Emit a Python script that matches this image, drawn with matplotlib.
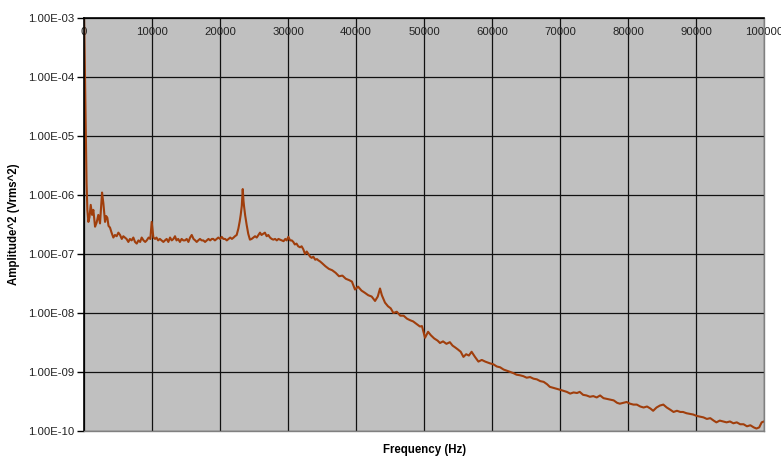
import numpy as np
import matplotlib.pyplot as plt
from matplotlib.ticker import FixedLocator, NullLocator, FuncFormatter

# spectrum (Hz, Vrms^2)
freq = [0, 120, 250, 370, 490, 640, 800, 980, 1180, 1370, 1620, 1850, 2100, 2350, 2650, 2840,
        3090, 3250, 3430, 3600, 3820, 4050, 4310, 4550, 4800, 5050, 5300, 5550, 5780, 6000,
        6250, 6520, 6750, 7000, 7250, 7500, 7750, 8000, 8250, 8480, 8750, 9000, 9220, 9500,
        9750, 9950, 10200, 10450, 10650, 10900, 11150, 11400, 11670, 11900, 12150, 12400,
        12650, 12900, 13150, 13380, 13600, 13850, 14100, 14350, 14600, 14850, 15100, 15350,
        15600, 15840, 16100, 16350, 16570, 16800, 17050, 17300, 17550, 17800, 18050, 18300,
        18550, 18800, 19000, 19250, 19500, 19750, 20000, 20250, 20500, 20750, 21000, 21250,
        21500, 21750, 22000, 22200, 22450, 22700, 22900, 23040, 23200, 23340, 23450, 23530,
        23700, 23920, 24150, 24400, 24650, 24900, 25150, 25400, 25650, 25880, 26100, 26370,
        26600, 26860, 27100, 27350, 27600, 27840, 28100, 28350, 28600, 28820, 29100, 29350,
        29600, 29800, 30050, 30300, 30550, 30780, 31000, 31250, 31500, 31760, 32000, 32250,
        32500, 32750, 33000, 33250, 33480, 33720, 34000, 34250, 34460, 34700,
        35000, 35500, 36000, 36500, 37000, 37500, 38000, 38500, 39000, 39400, 39850, 40300,
        40800, 41300, 41800, 42300, 42800, 43200, 43530, 43800, 44260, 44700, 45100, 45500,
        46000, 46500, 47000, 47500, 48000, 48400, 48900, 49400, 49700, 50150, 50600, 51000,
        51500, 52000, 52350, 52800, 53300, 53800, 54200, 54600, 55000, 55400, 55800, 56200,
        56600, 57000, 57500, 58000, 58500, 59000, 59700, 60200, 60700, 61200, 61700, 62200,
        62700, 63200, 63600, 64100, 64600, 65100, 65600, 66100, 66600, 67100, 67600, 68100,
        68500, 69000, 69500, 70000, 70500, 71000, 71500, 72000, 72500, 72900, 73400, 73900,
        74400, 74900, 75400, 75900, 76400, 76900, 77400, 77900, 78400, 78800, 79300, 79800,
        80300, 80800, 81300, 81800, 82300, 82800, 83300, 83700, 84200, 84700, 85200, 85700,
        86200, 86700, 87200, 87700, 88100, 88600, 89100, 89600, 90100, 90600, 91100, 91600,
        92100, 92600, 93000, 93500, 94000, 94500, 95000, 95500, 96000, 96500, 97000, 97500,
        98000, 98500, 98900, 99300, 99660, 100000]

amp = [1.0e-3, 1.5e-4, 1.2e-5, 1.6e-6, 5.6e-7, 3.5e-7, 4.2e-7, 6.8e-7, 4.6e-7, 5.6e-7, 2.9e-7,
       3.4e-7, 4.6e-7, 3.3e-7, 1.1e-6, 7.3e-7, 3.5e-7, 4.4e-7, 4.1e-7, 3.0e-7, 2.8e-7, 2.3e-7,
       1.9e-7, 2.1e-7, 2.0e-7, 2.3e-7, 2.1e-7, 1.8e-7, 2.0e-7, 1.9e-7, 1.8e-7, 1.6e-7, 1.8e-7,
       1.7e-7, 1.9e-7, 1.6e-7, 1.5e-7, 1.7e-7, 1.6e-7, 1.9e-7, 1.7e-7, 1.6e-7, 1.7e-7, 1.9e-7,
       1.8e-7, 3.5e-7, 1.9e-7, 1.8e-7, 1.9e-7, 1.7e-7, 1.8e-7, 1.7e-7, 1.6e-7, 1.7e-7, 1.8e-7,
       1.6e-7, 1.9e-7, 1.7e-7, 1.8e-7, 2.0e-7, 1.7e-7, 1.8e-7, 1.6e-7, 1.8e-7, 1.7e-7, 1.7e-7,
       1.8e-7, 1.6e-7, 1.9e-7, 2.1e-7, 1.8e-7, 1.7e-7, 1.6e-7, 1.7e-7, 1.8e-7, 1.7e-7, 1.7e-7,
       1.6e-7, 1.7e-7, 1.8e-7, 1.7e-7, 1.8e-7, 1.8e-7, 1.7e-7, 1.8e-7, 1.9e-7, 1.8e-7, 1.95e-7,
       1.8e-7, 1.8e-7, 1.7e-7, 1.8e-7, 1.9e-7, 1.8e-7, 1.9e-7, 2.0e-7, 2.1e-7, 2.7e-7, 3.6e-7,
       4.6e-7, 6.5e-7, 1.26e-6, 8.0e-7, 6.5e-7, 4.5e-7, 3.1e-7, 2.2e-7, 1.75e-7, 1.8e-7,
       1.9e-7, 2.0e-7, 1.9e-7, 2.1e-7, 2.3e-7, 2.1e-7, 2.2e-7, 2.3e-7, 2.0e-7, 2.1e-7, 1.9e-7,
       1.8e-7, 1.75e-7, 1.8e-7, 1.7e-7, 1.8e-7, 1.75e-7, 1.7e-7, 1.65e-7, 1.8e-7, 1.7e-7,
       1.95e-7, 1.7e-7, 1.7e-7, 1.6e-7, 1.45e-7, 1.5e-7, 1.35e-7, 1.3e-7, 1.35e-7, 1.2e-7,
       1.0e-7, 1.1e-7, 1.0e-7, 9.0e-8, 8.6e-8, 9.0e-8, 8.0e-8, 8.2e-8, 7.8e-8, 7.5e-8,
       7.0e-8, 6.2e-8, 5.6e-8, 5.3e-8, 4.8e-8, 4.2e-8, 4.3e-8, 3.8e-8, 3.6e-8, 3.4e-8, 2.5e-8,
       2.8e-8, 2.4e-8, 2.2e-8, 2.0e-8, 1.9e-8, 1.6e-8, 1.9e-8, 2.6e-8, 2.0e-8, 1.5e-8, 1.3e-8,
       1.2e-8, 1.0e-8, 1.05e-8, 9.0e-9, 9.0e-9, 8.0e-9, 7.5e-9, 7.2e-9, 6.5e-9, 5.9e-9, 6.0e-9,
       3.8e-9, 4.8e-9, 4.2e-9, 3.7e-9, 3.4e-9, 3.1e-9, 3.3e-9, 3.0e-9, 3.2e-9, 2.8e-9, 2.6e-9,
       2.4e-9, 2.2e-9, 1.8e-9, 2.0e-9, 1.9e-9, 2.2e-9, 1.8e-9, 1.5e-9, 1.6e-9, 1.5e-9, 1.4e-9,
       1.35e-9, 1.24e-9, 1.2e-9, 1.1e-9, 1.05e-9, 1.0e-9, 9.5e-10, 9.0e-10, 8.8e-10, 8.5e-10,
       8.0e-10, 8.2e-10, 7.7e-10, 7.5e-10, 7.0e-10, 6.8e-10, 6.2e-10, 5.6e-10, 5.4e-10, 5.2e-10,
       5.0e-10, 4.8e-10, 4.6e-10, 4.3e-10, 4.5e-10, 4.4e-10, 4.6e-10, 4.1e-10, 4.0e-10, 3.8e-10,
       3.9e-10, 3.7e-10, 4.0e-10, 3.6e-10, 3.5e-10, 3.4e-10, 3.3e-10, 3.0e-10, 2.9e-10, 3.0e-10,
       3.1e-10, 2.9e-10, 2.8e-10, 2.8e-10, 2.6e-10, 2.5e-10, 2.6e-10, 2.4e-10, 2.2e-10, 2.5e-10,
       2.7e-10, 2.8e-10, 2.5e-10, 2.3e-10, 2.1e-10, 2.2e-10, 2.1e-10, 2.1e-10, 2.0e-10, 1.95e-10,
       1.9e-10, 1.8e-10, 1.75e-10, 1.7e-10, 1.6e-10, 1.65e-10, 1.5e-10, 1.4e-10, 1.5e-10,
       1.45e-10, 1.4e-10, 1.45e-10, 1.35e-10, 1.4e-10, 1.3e-10, 1.3e-10, 1.2e-10, 1.25e-10,
       1.15e-10, 1.1e-10, 1.15e-10, 1.4e-10, 1.45e-10]

x_ticks = [0, 10000, 20000, 30000, 40000, 50000, 60000, 70000, 80000, 90000, 100000]
y_ticks = [1e-10, 1e-9, 1e-8, 1e-7, 1e-6, 1e-5, 1e-4, 1e-3]

plt.rcParams['font.family'] = ['Liberation Sans', 'DejaVu Sans']

fig = plt.figure(figsize=(7.81, 4.58), dpi=100)
ax = fig.add_axes([0.1076, 0.0590, 0.8706, 0.9017])
ax.set_facecolor('#c0c0c0')

ax.plot(freq, amp, color='#a03e0c', lw=1.5)

ax.set_yscale('log')
ax.set_xlim(0, 100000)
ax.set_ylim(1e-10, 1e-3)

ax.yaxis.set_major_locator(FixedLocator(y_ticks))
ax.yaxis.set_minor_locator(NullLocator())
ax.yaxis.set_major_formatter(FuncFormatter(lambda v, p: '%.2E' % v))
ax.xaxis.set_major_locator(FixedLocator(x_ticks))
ax.xaxis.set_major_formatter(FuncFormatter(lambda v, p: '%d' % v))

ax.grid(True, color='#111111', lw=0.9)
ax.set_axisbelow(True)

# x labels sit inside the plot, just under the top edge
ax.tick_params(axis='x', top=True, bottom=False, labeltop=True, labelbottom=False,
               length=0, pad=-14, labelsize=8.2, colors='#222222')
ax.tick_params(axis='y', direction='out', length=5, width=1, labelsize=8.2, pad=2,
               colors='black', labelcolor='#222222')

for s in ['top', 'left']:
    ax.spines[s].set_color('black')
    ax.spines[s].set_linewidth(1.2)
for s in ['bottom', 'right']:
    ax.spines[s].set_color('#808080')
    ax.spines[s].set_linewidth(1.0)

ax.set_ylabel('Amplitude^2 (Vrms^2)', fontsize=8.3, fontweight='bold', labelpad=6)
fig.text(0.543, 0.012, 'Frequency (Hz)', fontsize=8.3, fontweight='bold', ha='center')

fig.savefig('out.png', dpi=100)
